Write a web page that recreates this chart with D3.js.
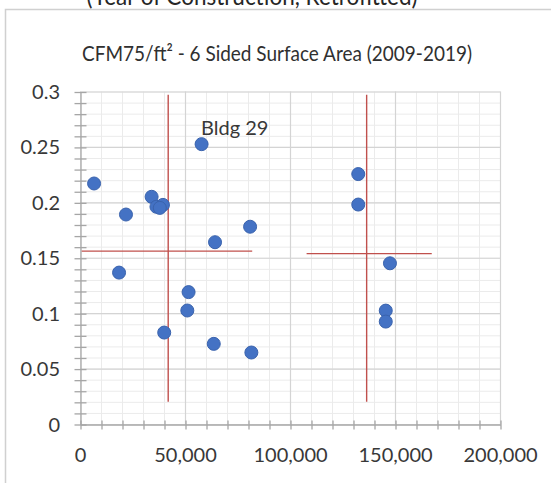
<!DOCTYPE html>
<html><head><meta charset="utf-8">
<script src="https://cdn.jsdelivr.net/npm/d3@7"></script>
<style>body{margin:0;background:#fff}svg{display:block}text{font-family:Lato,"Open Sans",sans-serif;fill:#383838}</style>
</head><body><div id="chart"></div>
<script>
// ---- data ----
const xValues = [6700, 21900, 34100, 36400, 39500, 38000, 57900, 64300, 81000, 18600, 51700, 51100, 40100, 63700, 81600, 132500, 132500, 147600, 145600, 145600];
const yValues = [0.217, 0.189, 0.205, 0.196, 0.1977, 0.195, 0.2525, 0.164, 0.178, 0.1366, 0.119, 0.1024, 0.0825, 0.0723, 0.0645, 0.2255, 0.198, 0.145, 0.1023, 0.0924];
const xTickLabels = ["0", "50,000", "100,000", "150,000", "200,000"];
const yTickLabels = ["0", "0.05", "0.1", "0.15", "0.2", "0.25", "0.3"];
const refX1 = [42000, 800, 136500, 107900];
const refY1 = [0.02, 0.156, 0.02, 0.1537];
const refX2 = [42000, 82000, 136500, 167500];
const refY2 = [0.297, 0.156, 0.297, 0.1537];
const annotation = {label: "Bldg 29", index: 6};
const title = "CFM75/ft² - 6 Sided Surface Area (2009-2019)";
const topText = "(Year of Construction, Retrofitted)";

const W = 551, H = 483;
const svg = d3.select("#chart").append("svg").attr("width", W).attr("height", H);
svg.append("rect").attr("width", W).attr("height", H).attr("fill", "#fff");

// outer chart border
svg.append("rect").attr("x", 5.5).attr("y", 9.5).attr("width", 600).attr("height", 600)
  .attr("fill", "none").attr("stroke", "#d0d0d0").attr("stroke-width", 1.5);

svg.append("text").attr("x", 252).attr("y", 5).attr("text-anchor", "middle")
  .attr("textLength", 331).attr("lengthAdjust", "spacingAndGlyphs")
  .style("font-size", "25px").style("fill", "#262626").text(topText);

svg.append("text").attr("x", 277).attr("y", 61).attr("text-anchor", "middle")
  .attr("textLength", 390).attr("lengthAdjust", "spacingAndGlyphs")
  .style("font-size", "22px").style("fill", "#303030").text(title);

const x = d3.scaleLinear().domain([0, 200000]).range([80, 500]);
const y = d3.scaleLinear().domain([0, 0.3]).range([424, 91.5]);

// minor gridlines
const g = svg.append("g");
g.selectAll(".vminor").data(d3.range(0, 200001, 10000)).join("line")
  .attr("x1", d => x(d) + 0.5).attr("x2", d => x(d) + 0.5).attr("y1", y(0)).attr("y2", y(0.3))
  .attr("stroke", "#ebebeb").attr("stroke-width", 1);
g.selectAll(".hminor").data(d3.range(0, 31).map(i => i / 100)).join("line")
  .attr("y1", d => y(d) + 0.5).attr("y2", d => y(d) + 0.5).attr("x1", x(0)).attr("x2", x(200000))
  .attr("stroke", "#ebebeb").attr("stroke-width", 1);
// major gridlines
g.selectAll(".vmajor").data(d3.range(50000, 200001, 50000)).join("line")
  .attr("x1", d => x(d) + 0.5).attr("x2", d => x(d) + 0.5).attr("y1", y(0)).attr("y2", y(0.3))
  .attr("stroke", "#d4d4d4").attr("stroke-width", 1.2);
g.selectAll(".hmajor").data(d3.range(1, 7).map(i => i * 0.05)).join("line")
  .attr("y1", d => y(d) + 0.5).attr("y2", d => y(d) + 0.5).attr("x1", x(0)).attr("x2", x(200000))
  .attr("stroke", "#d4d4d4").attr("stroke-width", 1.2);

// axes (minor cross ticks)
const xAxisMinor = d3.axisBottom(x).tickValues(d3.range(0, 200001, 10000)).tickFormat("").tickSizeInner(5).tickSizeOuter(0);
const xa = svg.append("g").attr("transform", `translate(0.5,${y(0) + 0.5})`).call(xAxisMinor);
xa.selectAll(".tick line").attr("y1", -4).attr("y2", 5);
xa.selectAll("line,path").attr("stroke", "#a6a6a6").attr("stroke-width", 1.3);

const yAxisMinor = d3.axisLeft(y).tickValues(d3.range(0, 31).map(i => i / 100)).tickFormat("").tickSizeInner(6).tickSizeOuter(0);
const ya = svg.append("g").attr("transform", `translate(${x(0) + 0.5},0.5)`).call(yAxisMinor);
ya.selectAll(".tick line").attr("x1", 6).attr("x2", -6);
ya.selectAll("line,path").attr("stroke", "#a6a6a6").attr("stroke-width", 1.3);

// tick labels
const xLab = d3.axisBottom(x).tickValues(d3.range(0, 200001, 50000)).tickFormat((d, i) => xTickLabels[i]).tickSize(0).tickPadding(0);
const xl = svg.append("g").attr("transform", `translate(0,${y(0) + 38})`).call(xLab);
xl.select("path").remove();
xl.selectAll("text").style("font-size", "20px").attr("dy", 0).style("font-family", "Lato").attr("fill", "#383838");

const yLab = d3.axisLeft(y).tickValues(d3.range(0, 7).map(i => i * 0.05)).tickFormat((d, i) => yTickLabels[i]).tickSize(0).tickPadding(0);
const yl = svg.append("g").attr("transform", `translate(60,0)`).call(yLab);
yl.select("path").remove();
yl.selectAll("text").style("font-size", "20px").attr("dy", "0.35em").style("font-family", "Lato").attr("fill", "#383838");

// reference lines
svg.append("g").selectAll("line").data(refX1).join("line")
  .attr("x1", (d, i) => x(refX1[i])).attr("x2", (d, i) => x(refX2[i]))
  .attr("y1", (d, i) => y(refY1[i])).attr("y2", (d, i) => y(refY2[i]))
  .attr("stroke", "#c0504d").attr("stroke-width", 1.4);

// points
svg.append("g").selectAll("circle").data(xValues).join("circle")
  .attr("cx", (d, i) => x(xValues[i])).attr("cy", (d, i) => y(yValues[i])).attr("r", 6.5)
  .attr("fill", "#4472c4").attr("stroke", "#3a63ad").attr("stroke-width", 1);

// annotation
svg.append("text").attr("x", x(xValues[annotation.index]) - 0.5).attr("y", y(yValues[annotation.index]) - 9)
  .style("font-size", "20px").text(annotation.label);
</script></body></html>
